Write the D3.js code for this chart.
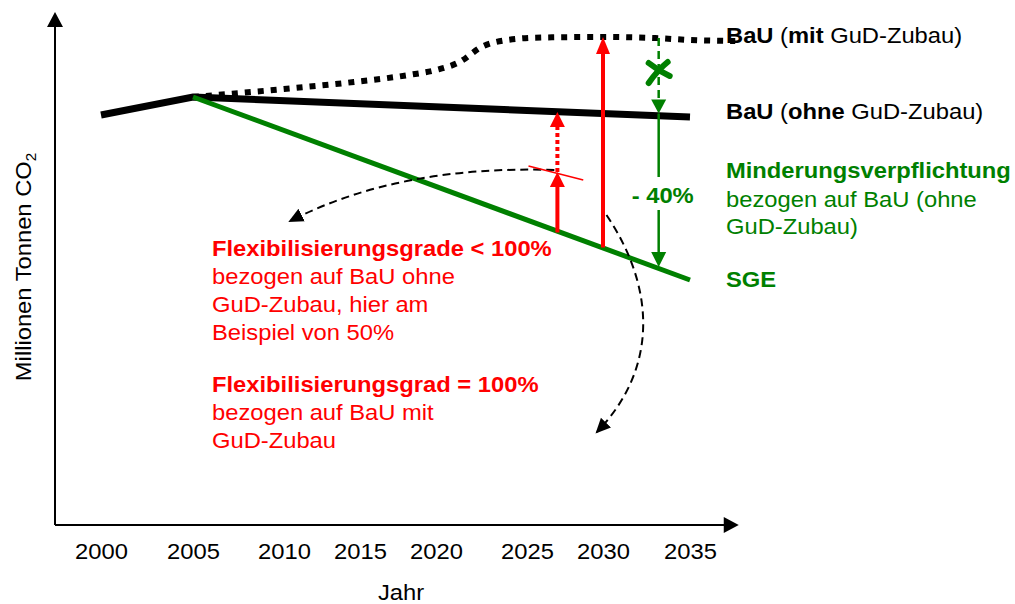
<!DOCTYPE html>
<html lang="de">
<head>
  <meta charset="UTF-8">
  <title>BaU und SGE</title>
  <script src="https://cdn.jsdelivr.net/npm/d3@7"></script>
  <style>
    body { margin: 0; background: #fff; }
    svg { display: block; font-family: "Liberation Sans", Arial, sans-serif; }
    text { white-space: pre; }
  </style>
</head>
<body>
<div id="chart"></div>
<script>
  // x axis: year labels (they are not evenly spaced in the original sketch)
  const years = [2000, 2005, 2010, 2015, 2020, 2025, 2030, 2035];
  const yearPx = [101, 193, 284, 360, 436, 527, 603, 690];
  const xExtent = [1997.5, 2037.8];
  const yExtent = [0, 102.6];

  // emission paths, Mio t CO2 (no units shown, values relative)
  const bauOhne = [[2000, 82], [2005, 85.6], [2035, 81.6]];
  const bauMit = [[2005, 85.6], [2010, 87.2], [2014.6, 88.6], [2018.2, 90], [2020, 91],
                  [2021.3, 92.6], [2022.5, 95.6], [2023.9, 97], [2026, 97.5], [2030, 97.6],
                  [2033, 97.4], [2035, 97], [2037.6, 96.8]];
  const sge = [[2005, 85.6], [2035, 49]];

  // annotation arrows
  const flex100 = { year: 2030, from: 55.5, to: 97.6 };
  const flex50 = { year: 2027, from: 58.5, mid: 70.6, to: 82.6 };
  const flexTick = [[2025.1, 71.8], [2028.7, 69]];
  const minus40 = { year: 2033.2, top: 97.4, bau: 82.3, gapTop: 69.6, gapBottom: 63, sge: 51.6, cross: 90.6 };
  const curveLeft = [[2026.8, 71], [2017.6, 72], [2010.4, 60.8]];
  const curveDown = [[2030.2, 62], [2033.1, 47], [2033.1, 31], [2029.6, 18.6]];

  // texts
  const yTitle = "Millionen Tonnen CO";
  const xTitle = "Jahr";
  const rightLabels = [
    [["BaU", true], [" (", false], ["mit", true], [" GuD-Zubau)", false]],
    [["BaU", true], [" (", false], ["ohne", true], [" GuD-Zubau)", false]]
  ];
  const greenLines = ["Minderungsverpflichtung", "bezogen auf BaU (ohne", "GuD-Zubau)"];
  const sgeLabel = "SGE";
  const redBlock1 = ["Flexibilisierungsgrade < 100%", "bezogen auf BaU ohne", "GuD-Zubau, hier am", "Beispiel von 50%"];
  const redBlock2 = ["Flexibilisierungsgrad = 100%", "bezogen auf BaU mit", "GuD-Zubau"];
  const pctLabel = "- 40%";

  const RED = "#ff0000", GREEN = "#008000";
  const width = 1015, height = 604;

  const svg = d3.select("#chart").append("svg")
    .attr("width", width).attr("height", height);

  const x = d3.scaleLinear().domain(years).range(yearPx);
  const y = d3.scaleLinear().domain([0, 100]).range([525, 25]);

  const defs = svg.append("defs");
  defs.append("marker").attr("id", "dashHead")
    .attr("markerUnits", "userSpaceOnUse")
    .attr("viewBox", "0 -8 16 16").attr("markerWidth", 16).attr("markerHeight", 16)
    .attr("refX", 13).attr("refY", 0).attr("orient", "auto")
    .append("path").attr("d", "M0,-7L15,0L0,7Z").attr("fill", "#000");

  // helper: straight vertical arrow with a triangle head
  function vArrow(year, v0, v1, color, w, headW, headL, dash) {
    const px = x(year), ya = y(v0), yb = y(v1);
    const dir = yb < ya ? -1 : 1;
    const base = yb - dir * headL;
    svg.append("line")
      .attr("x1", px).attr("x2", px).attr("y1", ya).attr("y2", base)
      .attr("stroke", color).attr("stroke-width", w)
      .attr("stroke-dasharray", dash || null);
    svg.append("path")
      .attr("d", `M${px},${yb}L${px - headW / 2},${base}L${px + headW / 2},${base}Z`)
      .attr("fill", color);
  }

  function label(x0, y0, parts, color, anchor, size) {
    const t = svg.append("text")
      .attr("transform", `translate(${x0},${y0}) scale(1.08,1)`)
      .attr("fill", color)
      .attr("text-anchor", anchor || "start")
      .style("font-size", (size || 22) + "px");
    parts.forEach(p => t.append("tspan")
      .attr("font-weight", p[1] ? "bold" : "normal")
      .text(p[0]));
    return t;
  }

  // axes with arrow heads
  const ax0 = x(xExtent[0]), ay0 = y(yExtent[0]);
  svg.append("line").attr("x1", ax0).attr("x2", ax0)
    .attr("y1", ay0).attr("y2", y(yExtent[1]) + 14)
    .attr("stroke", "#000").attr("stroke-width", 2);
  svg.append("path")
    .attr("d", `M${ax0},${y(yExtent[1])}L${ax0 - 8},${y(yExtent[1]) + 15}L${ax0 + 8},${y(yExtent[1]) + 15}Z`);
  svg.append("line").attr("x1", ax0).attr("x2", x(xExtent[1]) - 14)
    .attr("y1", ay0).attr("y2", ay0)
    .attr("stroke", "#000").attr("stroke-width", 2);
  svg.append("path")
    .attr("d", `M${x(xExtent[1])},${ay0}L${x(xExtent[1]) - 15},${ay0 - 8}L${x(xExtent[1]) - 15},${ay0 + 8}Z`);

  const xAxis = svg.append("g")
    .attr("transform", `translate(0,${ay0})`)
    .call(d3.axisBottom(x).tickValues(years).tickFormat(d3.format("d")).tickSize(0).tickPadding(18));
  xAxis.select(".domain").remove();
  xAxis.selectAll("text")
    .attr("fill", "#000")
    .attr("transform", "scale(1.08,1)")
    .style("font-size", "22px")
    .style("font-family", "'Liberation Sans', Arial, sans-serif");

  label(401, 600, [[xTitle, false]], "#000", "middle");
  const yt = svg.append("text")
    .attr("transform", "translate(31,267) rotate(-90) scale(1.08,1)")
    .attr("text-anchor", "middle")
    .style("font-size", "22px");
  yt.append("tspan").text(yTitle);
  yt.append("tspan").attr("dy", 5).style("font-size", "14px").text("2");

  // lines
  const line = d3.line().x(d => x(d[0])).y(d => y(d[1]));

  svg.append("path").datum(bauMit)
    .attr("d", line.curve(d3.curveMonotoneX))
    .attr("fill", "none").attr("stroke", "#000")
    .attr("stroke-width", 6).attr("stroke-dasharray", "6,7");
  line.curve(d3.curveLinear);

  svg.append("path").datum(bauOhne)
    .attr("d", line)
    .attr("fill", "none").attr("stroke", "#000").attr("stroke-width", 7);

  svg.append("path").datum(sge)
    .attr("d", line)
    .attr("fill", "none").attr("stroke", GREEN).attr("stroke-width", 5);

  // dashed curved pointers
  const p1 = d3.path();
  p1.moveTo(x(curveLeft[0][0]), y(curveLeft[0][1]));
  p1.quadraticCurveTo(x(curveLeft[1][0]), y(curveLeft[1][1]), x(curveLeft[2][0]), y(curveLeft[2][1]));
  svg.append("path").attr("d", p1.toString())
    .attr("fill", "none").attr("stroke", "#000").attr("stroke-width", 2)
    .attr("stroke-dasharray", "8,5").attr("marker-end", "url(#dashHead)");

  const p2 = d3.path();
  p2.moveTo(x(curveDown[0][0]), y(curveDown[0][1]));
  p2.bezierCurveTo(x(curveDown[1][0]), y(curveDown[1][1]), x(curveDown[2][0]), y(curveDown[2][1]),
    x(curveDown[3][0]), y(curveDown[3][1]));
  svg.append("path").attr("d", p2.toString())
    .attr("fill", "none").attr("stroke", "#000").attr("stroke-width", 2)
    .attr("stroke-dasharray", "8,5").attr("marker-end", "url(#dashHead)");

  // red arrows
  vArrow(flex100.year, flex100.from, flex100.to, RED, 4, 14, 17);
  vArrow(flex50.year, flex50.from, flex50.mid, RED, 4, 15, 15);
  vArrow(flex50.year, flex50.mid, flex50.to, RED, 4, 15, 15, "4,3");
  svg.append("path").datum(flexTick)
    .attr("d", line)
    .attr("fill", "none").attr("stroke", RED).attr("stroke-width", 1.5);

  // green -40% arrow
  vArrow(minus40.year, minus40.top, minus40.bau, GREEN, 2.5, 15, 14, "8,5");
  svg.append("line")
    .attr("x1", x(minus40.year)).attr("x2", x(minus40.year))
    .attr("y1", y(minus40.bau)).attr("y2", y(minus40.gapTop))
    .attr("stroke", GREEN).attr("stroke-width", 2.5);
  vArrow(minus40.year, minus40.gapBottom, minus40.sge, GREEN, 2.5, 15, 15);

  // crossed-out mark on the upper part
  const cx = x(minus40.year), cy = y(minus40.cross);
  svg.append("path")
    .attr("d", `M${cx - 10},${cy - 9}Q${cx},${cy - 1} ${cx + 11},${cy + 4}M${cx + 9},${cy - 10}Q${cx - 1},${cy - 2} ${cx - 10},${cy + 11}`)
    .attr("fill", "none").attr("stroke", GREEN).attr("stroke-width", 6)
    .attr("stroke-linecap", "round");

  label(x(minus40.year) + 4, 203, [[pctLabel, true]], GREEN, "middle");

  // right side labels
  label(726, 43, rightLabels[0], "#000");
  label(726, 119, rightLabels[1], "#000");
  label(726, 178, [[greenLines[0], true]], GREEN);
  label(726, 207, [[greenLines[1], false]], GREEN);
  label(726, 234, [[greenLines[2], false]], GREEN);
  label(726, 287, [[sgeLabel, true]], GREEN);

  // red text blocks
  redBlock1.forEach((t, i) => label(212, 256 + i * 28, [[t, i === 0]], RED));
  redBlock2.forEach((t, i) => label(212, 392 + i * 28, [[t, i === 0]], RED));
</script>
</body>
</html>
